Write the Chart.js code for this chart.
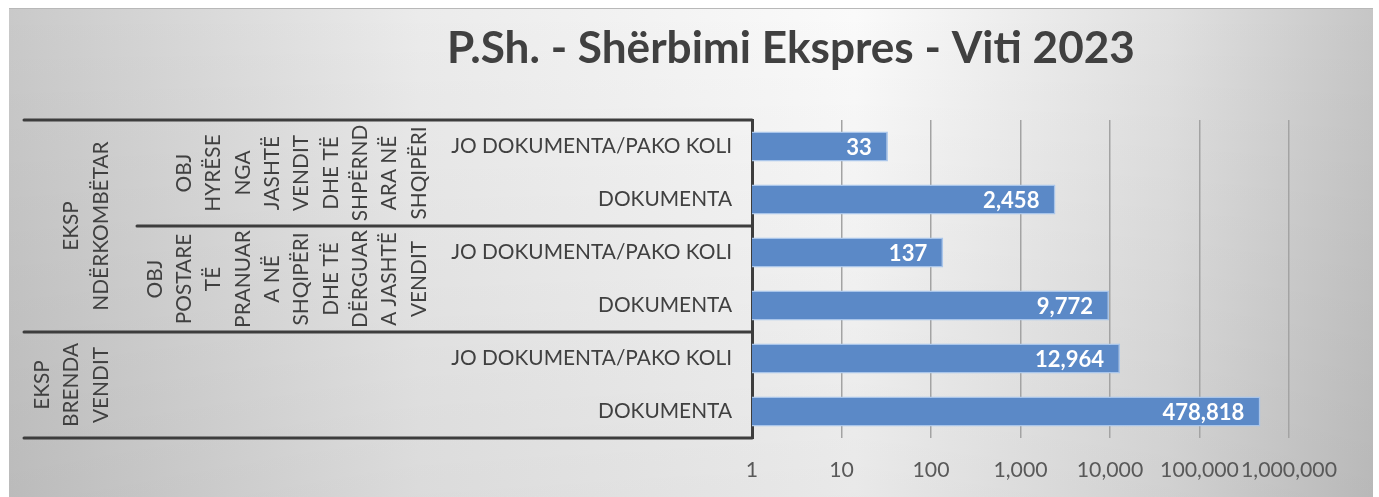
<!DOCTYPE html>
<html>
<head>
<meta charset="utf-8">
<script src="https://cdn.jsdelivr.net/npm/chart.js@4/dist/chart.umd.min.js"></script>
<style>
  html, body { margin: 0; padding: 0; background: #fff; }
  canvas { display: block; }
</style>
</head>
<body>
<canvas id="chart" width="1379" height="497"></canvas>
<script>
// ==== Data ====
const title = 'P.Sh. - Shërbimi Ekspres - Viti 2023';
const categories = ['JO DOKUMENTA/PAKO KOLI', 'DOKUMENTA', 'JO DOKUMENTA/PAKO KOLI', 'DOKUMENTA', 'JO DOKUMENTA/PAKO KOLI', 'DOKUMENTA'];
const values = [33, 2458, 137, 9772, 12964, 478818];
const tickValues = [1, 10, 100, 1000, 10000, 100000, 1000000];

// second level groups (category index ranges)
const midGroups = [
  ['OBJ', 'HYRËSE', 'NGA', 'JASHTË', 'VENDIT', 'DHE TË', 'SHPËRND', 'ARA NË', 'SHQIPËRI'],
  ['OBJ', 'POSTARE', 'TË', 'PRANUAR', 'A NË', 'SHQIPËRI', 'DHE TË', 'DËRGUAR', 'A JASHTË', 'VENDIT'],
  []
];
const midSpans = [[0, 1], [2, 3], [4, 5]];

// top level groups
const topGroups = [['EKSP', 'NDËRKOMBËTAR'], ['EKSP', 'BRENDA', 'VENDIT']];
const topSpans = [[0, 3], [4, 5]];

// ==== Fonts ====
const FONT = 'Lato, "Open Sans", sans-serif';
const measureCtx = document.createElement('canvas').getContext('2d');
function fitSize(text, weight, target) {
  measureCtx.font = `${weight} 100px ${FONT}`;
  return 100 * target / measureCtx.measureText(text).width;
}
const labelSize = fitSize('JO DOKUMENTA/PAKO KOLI', 'normal', 281);
const tickSize = fitSize('1,000,000', 'normal', 96);
const valueSize = fitSize('478,818', 'bold', 82);
const titleSize = fitSize(title, 'bold', 688);

// ==== Plugins ====
const background = {
  id: 'background',
  beforeDraw(chart) {
    const ctx = chart.ctx;
    ctx.save();
    ctx.fillStyle = '#fff';
    ctx.fillRect(0, 0, chart.width, chart.height);
    const g = ctx.createLinearGradient(9, 0, 1373, 0);
    g.addColorStop(0, '#c9c9c9');
    g.addColorStop(0.3, '#ebebeb');
    g.addColorStop(0.62, '#fafafa');
    g.addColorStop(0.85, '#e0e0e0');
    g.addColorStop(1, '#c6c6c6');
    ctx.fillStyle = g;
    ctx.fillRect(9, 8, 1364, 489);
    const v = ctx.createLinearGradient(0, 8, 0, 497);
    v.addColorStop(0, 'rgba(0,0,0,0)');
    v.addColorStop(1, 'rgba(0,0,0,0.07)');
    ctx.fillStyle = v;
    ctx.fillRect(9, 8, 1364, 489);
    ctx.strokeStyle = '#b8b8b8';
    ctx.lineWidth = 1;
    ctx.beginPath();
    ctx.moveTo(9, 8.5);
    ctx.lineTo(1373, 8.5);
    ctx.stroke();

    // title
    ctx.fillStyle = '#404040';
    ctx.font = `bold ${titleSize}px ${FONT}`;
    ctx.textAlign = 'center';
    ctx.textBaseline = 'alphabetic';
    ctx.fillText(title, 791, 63);
    ctx.restore();
  }
};

const valueLabels = {
  id: 'valueLabels',
  afterDatasetsDraw(chart) {
    const ctx = chart.ctx;
    const meta = chart.getDatasetMeta(0);
    ctx.save();
    ctx.fillStyle = '#fff';
    ctx.font = `bold ${valueSize}px ${FONT}`;
    ctx.textAlign = 'right';
    ctx.textBaseline = 'middle';
    meta.data.forEach((bar, i) => {
      ctx.fillText(values[i].toLocaleString('en-US'), bar.x - 16, bar.y + 1);
    });
    ctx.restore();
  }
};

function drawRotated(ctx, lines, lastX, cy, size) {
  const step = 29.3;
  const capH = size * 0.72;
  lines.forEach((line, i) => {
    const x = lastX - (lines.length - 1 - i) * step + capH / 2;
    ctx.save();
    ctx.translate(x, cy);
    ctx.rotate(-Math.PI / 2);
    ctx.fillText(line, 0, 0);
    ctx.restore();
  });
}

const groupAxis = {
  id: 'groupAxis',
  afterDraw(chart) {
    const ctx = chart.ctx;
    const y = chart.scales.y;
    const band = Math.abs(y.getPixelForValue(1) - y.getPixelForValue(0));
    const top = i => y.getPixelForValue(i) - band / 2;
    const bottom = i => y.getPixelForValue(i) + band / 2;
    const axisX = chart.chartArea.left;

    ctx.save();
    ctx.fillStyle = '#404040';
    ctx.font = `${labelSize}px ${FONT}`;
    ctx.textAlign = 'center';
    ctx.textBaseline = 'alphabetic';
    topGroups.forEach((lines, g) => {
      const cy = (top(topSpans[g][0]) + bottom(topSpans[g][1])) / 2;
      drawRotated(ctx, lines, 100, cy, labelSize);
    });
    midGroups.forEach((lines, g) => {
      if (!lines.length) return;
      const cy = (top(midSpans[g][0]) + bottom(midSpans[g][1])) / 2;
      drawRotated(ctx, lines, 418, cy, labelSize);
    });

    ctx.strokeStyle = '#3d3d3d';
    ctx.lineWidth = 3;
    ctx.lineCap = 'round';
    const hline = (x0, yy) => {
      ctx.beginPath();
      ctx.moveTo(x0, yy);
      ctx.lineTo(axisX, yy);
      ctx.stroke();
    };
    hline(24, top(0));
    topSpans.forEach(s => hline(24, bottom(s[1])));
    midSpans.forEach(s => {
      if (!topSpans.some(t => t[1] === s[1])) hline(137, bottom(s[1]));
    });
    ctx.restore();
  }
};

// ==== Chart ====
new Chart(document.getElementById('chart'), {
  type: 'bar',
  data: {
    labels: categories,
    datasets: [{
      data: values,
      backgroundColor: '#5b89c7',
      borderColor: '#a9c5ea',
      borderWidth: 1.5,
      borderSkipped: 'start',
      barPercentage: 0.57,
      categoryPercentage: 1
    }]
  },
  options: {
    indexAxis: 'y',
    responsive: false,
    animation: false,
    layout: { padding: { top: 120, right: 90, left: 0, bottom: 0 } },
    plugins: {
      legend: { display: false },
      tooltip: { enabled: false }
    },
    scales: {
      x: {
        type: 'logarithmic',
        min: 1,
        max: 1000000,
        afterBuildTicks: scale => { scale.ticks = tickValues.map(v => ({ value: v })); },
        afterFit: scale => { scale.height = 59; },
        grid: { color: '#a3a3a3', lineWidth: 1.5, drawTicks: false },
        border: { display: false },
        ticks: {
          padding: 19,
          color: '#595959',
          font: { family: FONT, size: tickSize },
          maxRotation: 0,
          autoSkip: false,
          callback: v => Number(v).toLocaleString('en-US')
        }
      },
      y: {
        afterFit: scale => { scale.width = 752; },
        grid: { display: false, drawTicks: false },
        border: { display: true, color: '#3d3d3d', width: 3 },
        ticks: {
          padding: 20,
          color: '#404040',
          font: { family: FONT, size: labelSize }
        }
      }
    }
  },
  plugins: [background, valueLabels, groupAxis]
});
</script>
</body>
</html>
